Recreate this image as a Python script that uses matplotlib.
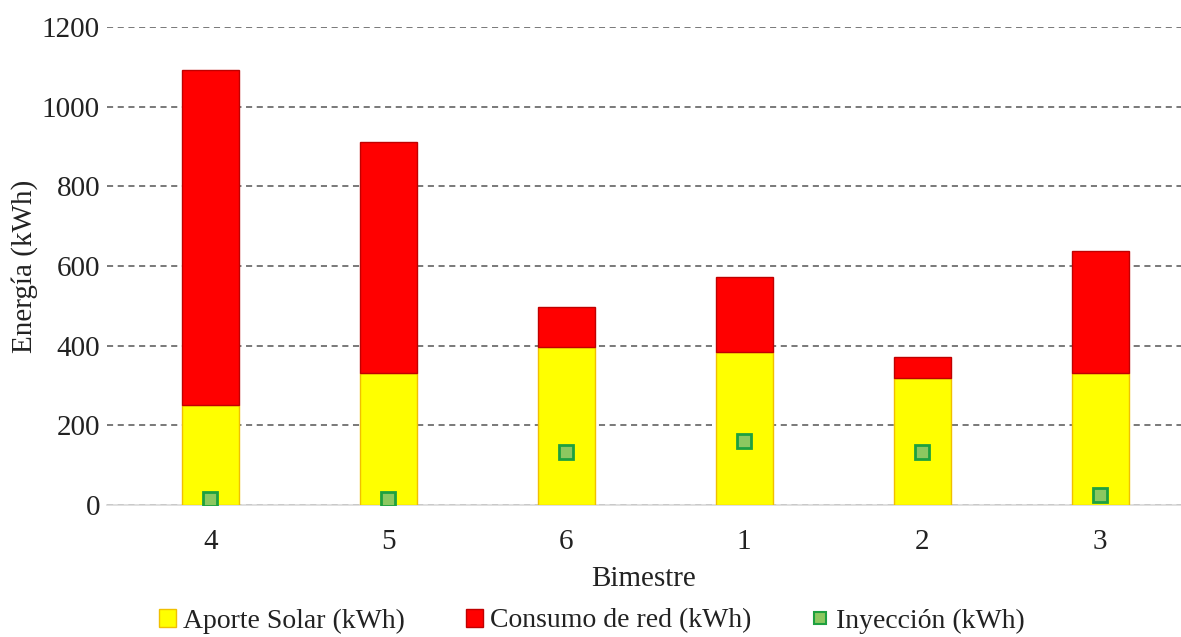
import matplotlib

matplotlib.use("Agg")

import matplotlib.pyplot as plt
import numpy as np
from matplotlib.lines import Line2D
from matplotlib.patches import Patch


bimestres = ["4", "5", "6", "1", "2", "3"]
aporte_solar = [250, 331, 397, 384, 320, 332]
consumo_red = [842, 580, 100, 188, 52, 306]
inyeccion = [15, 15, 133, 160, 133, 25]
y_ticks = [0, 200, 400, 600, 800, 1000, 1200]

YELLOW = "#ffff00"
YELLOW_EDGE = "#f0c000"
RED = "#ff0000"
RED_EDGE = "#c00000"
GREEN_FILL = "#8cc860"
GREEN_EDGE = "#1ea040"
TEXT = "#222222"


def main() -> None:
    plt.rcParams["font.family"] = ["Liberation Serif", "DejaVu Serif"]

    fig = plt.figure(figsize=(11.81, 6.37), dpi=100)
    ax = fig.add_axes([107 / 1181, 1 - 505 / 637, (1181 - 107) / 1181, 478 / 637])

    x = np.arange(len(bimestres))
    width = 0.32
    ax.bar(x, aporte_solar, width, color=YELLOW, edgecolor=YELLOW_EDGE, linewidth=1.0, zorder=3)
    ax.bar(x, consumo_red, width, bottom=aporte_solar, color=RED, edgecolor=RED_EDGE,
           linewidth=1.0, zorder=3)
    ax.plot(x, inyeccion, linestyle="none", marker="s", markersize=10,
            markerfacecolor=GREEN_FILL, markeredgecolor=GREEN_EDGE, markeredgewidth=2, zorder=4)

    ax.set_xlim(-0.58, 5.455)
    ax.set_ylim(0, 1200)
    ax.set_yticks(y_ticks)
    ax.set_xticks(x)
    ax.set_xticklabels(bimestres)
    ax.tick_params(axis="both", length=0, labelsize=21, colors=TEXT)
    ax.tick_params(axis="x", pad=17)
    ax.tick_params(axis="y", pad=5)

    ax.yaxis.grid(True, linestyle=(0, (4, 3)), color="#555555", linewidth=1.1, zorder=0)
    ax.set_axisbelow(True)
    for side in ["left", "right", "top"]:
        ax.spines[side].set_visible(False)
    ax.spines["bottom"].set_color("#d9d9d9")
    ax.spines["bottom"].set_linewidth(1.2)

    ax.set_xlabel("Bimestre", fontsize=21, color=TEXT, labelpad=8)
    ax.set_ylabel("Energía (kWh)", fontsize=21, color=TEXT, labelpad=3)

    handles = [
        Patch(facecolor=YELLOW, edgecolor=YELLOW_EDGE, label="Aporte Solar (kWh)"),
        Patch(facecolor=RED, edgecolor=RED_EDGE, label="Consumo de red (kWh)"),
        Line2D([], [], linestyle="none", marker="s", markersize=9, markerfacecolor=GREEN_FILL,
               markeredgecolor=GREEN_EDGE, markeredgewidth=1.5, label="Inyección (kWh)"),
    ]
    fig.legend(handles=handles, loc="center", bbox_to_anchor=(592 / 1181, 1 - 621 / 637),
               ncol=3, frameon=False, fontsize=20, handlelength=0.6, handleheight=0.6,
               handletextpad=0.25, columnspacing=2.2, labelcolor=TEXT, borderpad=0.1)

    fig.savefig("out.png", dpi=100)


if __name__ == "__main__":
    main()
